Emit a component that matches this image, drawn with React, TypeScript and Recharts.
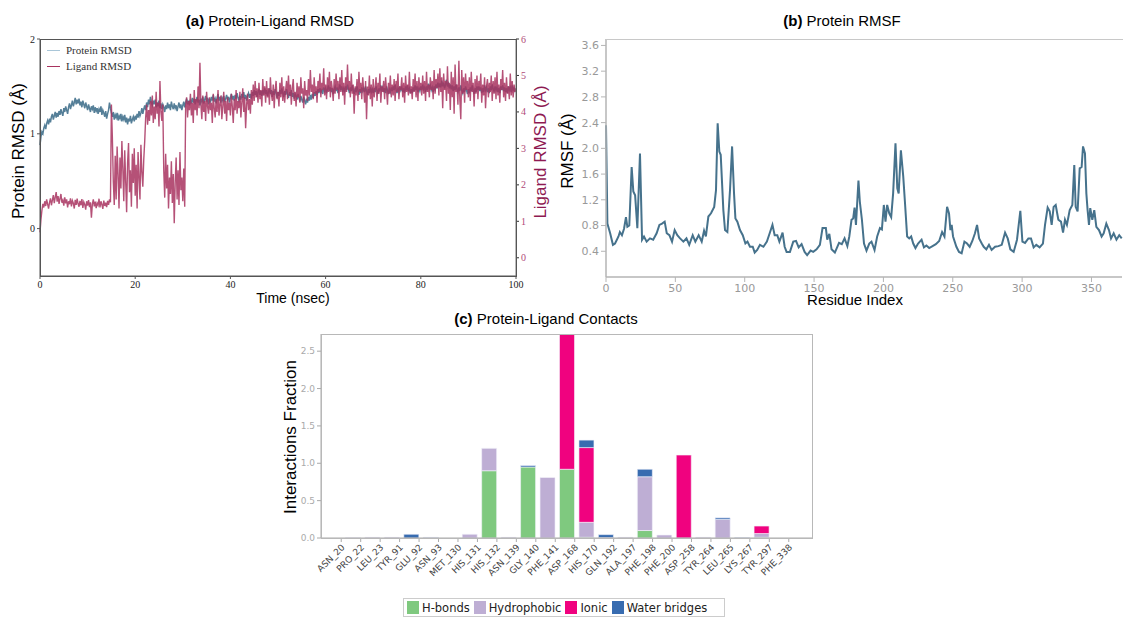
import React from "react";
import { LineChart, Line, BarChart, Bar, XAxis, YAxis } from "recharts";

// (a) RMSD time series, sampled every STEP ns
const STEP = 0.2;
const proteinRmsd = [
  0.88, 0.97, 1.02, 1.00, 1.06, 1.09, 1.05, 1.11, 1.14, 1.10,
  1.16, 1.12, 1.18, 1.21, 1.15, 1.19, 1.23, 1.17, 1.22, 1.18,
  1.24, 1.20, 1.26, 1.22, 1.19, 1.27, 1.23, 1.29, 1.25, 1.21,
  1.28, 1.32, 1.26, 1.30, 1.35, 1.29, 1.33, 1.38, 1.31, 1.36,
  1.32, 1.37, 1.30, 1.34, 1.28, 1.35, 1.31, 1.27, 1.33, 1.29,
  1.25, 1.31, 1.27, 1.23, 1.29, 1.26, 1.30, 1.22, 1.28, 1.24,
  1.27, 1.21, 1.26, 1.23, 1.29, 1.20, 1.25, 1.22, 1.18, 1.24,
  1.16, 1.21, 1.25, 1.33, 1.27, 1.22, 1.18, 1.23, 1.15, 1.20,
  1.17, 1.22, 1.14, 1.19, 1.16, 1.21, 1.13, 1.18, 1.15, 1.20,
  1.12, 1.17, 1.10, 1.16, 1.13, 1.19, 1.11, 1.15, 1.18, 1.13,
  1.19, 1.15, 1.21, 1.17, 1.24, 1.19, 1.22, 1.27, 1.21, 1.26,
  1.30, 1.25, 1.33, 1.28, 1.36, 1.31, 1.39, 1.33, 1.30, 1.35,
  1.31, 1.36, 1.28, 1.33, 1.29, 1.35, 1.27, 1.32, 1.26, 1.31,
  1.28, 1.23, 1.30, 1.26, 1.33, 1.27, 1.31, 1.25, 1.34, 1.29,
  1.26, 1.32, 1.27, 1.30, 1.24, 1.29, 1.33, 1.27, 1.31, 1.25,
  1.30, 1.34, 1.28, 1.33, 1.37, 1.31, 1.35, 1.30, 1.36, 1.32,
  1.38, 1.33, 1.37, 1.31, 1.35, 1.39, 1.33, 1.36, 1.30, 1.37,
  1.34, 1.39, 1.32, 1.36, 1.40, 1.34, 1.38, 1.31, 1.37, 1.33,
  1.39, 1.35, 1.41, 1.34, 1.37, 1.32, 1.38, 1.42, 1.35, 1.39,
  1.33, 1.38, 1.35, 1.40, 1.34, 1.37, 1.41, 1.36, 1.39, 1.33,
  1.38, 1.42, 1.36, 1.40, 1.35, 1.41, 1.37, 1.43, 1.38, 1.35,
  1.40, 1.36, 1.42, 1.38, 1.44, 1.37, 1.41, 1.35, 1.40, 1.43,
  1.38, 1.42, 1.37, 1.44, 1.40, 1.46, 1.41, 1.45, 1.39, 1.44,
  1.47, 1.41, 1.45, 1.40, 1.46, 1.43, 1.48, 1.42, 1.46, 1.40,
  1.44, 1.48, 1.42, 1.46, 1.39, 1.45, 1.41, 1.47, 1.43, 1.38,
  1.44, 1.40, 1.46, 1.42, 1.48, 1.43, 1.39, 1.45, 1.41, 1.47,
  1.42, 1.38, 1.44, 1.40, 1.46, 1.39, 1.43, 1.37, 1.42, 1.40,
  1.36, 1.42, 1.38, 1.34, 1.40, 1.36, 1.33, 1.39, 1.35, 1.31,
  1.37, 1.33, 1.39, 1.35, 1.41, 1.36, 1.42, 1.38, 1.44, 1.40,
  1.45, 1.41, 1.47, 1.43, 1.48, 1.44, 1.46, 1.42, 1.49, 1.45,
  1.48, 1.43, 1.47, 1.51, 1.45, 1.49, 1.44, 1.48, 1.42, 1.47,
  1.50, 1.45, 1.49, 1.43, 1.48, 1.52, 1.46, 1.50, 1.44, 1.48,
  1.45, 1.50, 1.46, 1.52, 1.47, 1.43, 1.49, 1.45, 1.51, 1.46,
  1.42, 1.48, 1.44, 1.50, 1.46, 1.41, 1.47, 1.43, 1.49, 1.45,
  1.48, 1.44, 1.50, 1.45, 1.41, 1.47, 1.43, 1.49, 1.44, 1.47,
  1.43, 1.48, 1.44, 1.50, 1.46, 1.42, 1.48, 1.45, 1.51, 1.46,
  1.49, 1.44, 1.48, 1.43, 1.50, 1.46, 1.42, 1.47, 1.44, 1.49,
  1.45, 1.50, 1.46, 1.52, 1.47, 1.43, 1.48, 1.45, 1.50, 1.46,
  1.49, 1.44, 1.48, 1.43, 1.50, 1.46, 1.51, 1.45, 1.48, 1.43,
  1.47, 1.43, 1.49, 1.45, 1.51, 1.46, 1.50, 1.44, 1.48, 1.45,
  1.50, 1.46, 1.52, 1.47, 1.49, 1.44, 1.50, 1.46, 1.53, 1.48,
  1.51, 1.46, 1.49, 1.44, 1.50, 1.47, 1.52, 1.48, 1.54, 1.49,
  1.53, 1.49, 1.56, 1.50, 1.54, 1.48, 1.52, 1.57, 1.50, 1.53,
  1.48, 1.52, 1.47, 1.51, 1.45, 1.50, 1.46, 1.52, 1.47, 1.44,
  1.49, 1.45, 1.51, 1.46, 1.43, 1.48, 1.44, 1.50, 1.46, 1.42,
  1.47, 1.43, 1.49, 1.45, 1.51, 1.46, 1.42, 1.48, 1.44, 1.50,
  1.46, 1.50, 1.45, 1.49, 1.43, 1.48, 1.44, 1.51, 1.46, 1.49,
  1.44, 1.48, 1.43, 1.50, 1.46, 1.52, 1.47, 1.45, 1.50, 1.46,
  1.49, 1.44, 1.48, 1.43, 1.50, 1.46, 1.51, 1.45, 1.49, 1.44,
  1.48, 1.43, 1.50, 1.46, 1.49, 1.44, 1.51, 1.46, 1.48, 1.45,
  1.47,
];
const ligandRmsd = [
  0.70, 1.05, 1.30, 1.48, 1.38, 1.55, 1.42, 1.60, 1.47, 1.35,
  1.52, 1.63, 1.44, 1.58, 1.72, 1.50, 1.66, 1.80, 1.54, 1.69,
  1.48, 1.62, 1.75, 1.51, 1.58, 1.43, 1.66, 1.49, 1.60, 1.38,
  1.55, 1.47, 1.63, 1.41, 1.57, 1.50, 1.35, 1.59, 1.45, 1.62,
  1.48, 1.40, 1.56, 1.44, 1.61, 1.37, 1.53, 1.46, 1.32, 1.55,
  1.43, 1.58, 1.39, 1.52, 1.10, 1.47, 1.60, 1.41, 1.54, 1.36,
  1.50, 1.44, 1.62, 1.38, 1.55, 1.46, 1.34, 1.57, 1.42, 1.51,
  1.39, 1.56, 1.45, 1.60, 1.52, 4.20, 3.30, 2.10, 1.45, 2.80,
  1.60, 3.05, 2.30, 1.35, 2.75, 1.90, 3.20, 2.45, 1.55, 2.95,
  2.10, 1.25, 2.60, 3.15, 1.80, 2.40, 1.40, 2.85, 2.05, 3.00,
  1.70, 2.55, 1.35, 2.90, 2.20, 1.60, 3.10, 2.35, 1.95, 2.70,
  3.20, 3.85, 4.20, 3.65, 4.05, 3.75, 4.30, 3.90, 4.45, 3.70,
  4.15, 3.80, 4.55, 3.95, 4.25, 3.60, 4.85, 4.00, 3.75, 4.20,
  2.40, 1.65, 2.85, 1.90, 2.55, 1.35, 2.20, 1.75, 2.65, 1.50,
  2.30, 0.95, 2.05, 2.75, 1.60, 2.40, 1.45, 2.90, 1.85, 2.20,
  1.55, 2.45, 1.40, 4.15, 4.40, 3.85, 4.30, 4.05, 4.50, 3.90,
  4.25, 3.70, 4.60, 4.05, 4.35, 3.90, 4.70, 4.10, 5.35, 4.20,
  3.80, 4.45, 4.00, 4.30, 3.75, 4.55, 4.15, 3.95, 4.40, 4.05,
  4.25, 3.70, 4.50, 4.10, 3.85, 4.35, 4.00, 4.60, 3.90, 4.20,
  4.45, 3.80, 4.15, 4.55, 3.95, 4.30, 3.75, 4.40, 4.05, 4.25,
  3.90, 4.50, 4.15, 3.70, 4.35, 4.05, 4.60, 3.95, 4.30, 4.10,
  4.55, 3.85, 4.25, 4.65, 4.00, 4.40, 3.55, 4.20, 4.50, 4.05,
  4.35, 3.95, 4.60, 4.20, 4.75, 4.30, 4.85, 4.40, 4.65, 4.25,
  4.80, 4.35, 4.60, 4.15, 4.90, 4.45, 4.70, 4.25, 4.85, 4.40,
  4.65, 4.20, 4.95, 4.50, 4.30, 4.75, 4.10, 4.60, 4.85, 4.35,
  4.55, 4.15, 4.80, 4.40, 4.95, 4.30, 4.70, 4.25, 4.60, 4.85,
  4.35, 5.00, 4.45, 4.75, 4.20, 4.65, 4.90, 4.30, 4.55, 4.15,
  4.80, 4.40, 4.70, 4.25, 4.95, 4.50, 4.65, 4.10, 4.85, 4.45,
  4.60, 4.30, 4.90, 4.45, 5.15, 4.55, 4.75, 4.35, 4.95, 4.50,
  4.70, 4.25, 4.85, 4.55, 5.05, 4.40, 4.80, 4.60, 5.20, 4.45,
  4.75, 4.35, 4.95, 4.55, 5.10, 4.40, 4.85, 4.65, 4.30, 4.90,
  4.50, 5.05, 4.60, 4.85, 4.35, 4.95, 4.55, 5.15, 4.45, 4.80,
  4.20, 4.95, 4.55, 5.30, 4.60, 4.85, 4.40, 5.05, 4.50, 4.75,
  3.95, 4.70, 4.45, 4.90, 4.30, 5.10, 4.55, 4.80, 4.35, 4.95,
  4.60, 4.25, 4.85, 3.80, 4.70, 4.45, 5.00, 4.35, 4.75, 4.15,
  4.90, 4.40, 4.65, 4.95, 4.30, 4.80, 4.50, 5.05, 4.25, 4.70,
  4.55, 4.85, 4.35, 4.95, 4.60, 4.20, 4.80, 4.50, 5.00, 4.40,
  4.75, 4.45, 4.90, 4.30, 4.85, 4.55, 5.05, 4.35, 4.70, 4.60,
  4.95, 4.40, 4.80, 4.25, 5.00, 4.55, 4.75, 4.45, 5.10, 4.50,
  4.70, 4.35, 4.90, 4.55, 5.05, 4.40, 4.85, 4.30, 4.95, 4.60,
  4.80, 4.45, 5.00, 4.50, 4.85, 4.30, 5.10, 4.55, 4.75, 4.40,
  4.95, 4.60, 4.85, 4.35, 5.15, 4.50, 4.90, 4.65, 5.05, 4.45,
  5.20, 4.55, 4.95, 4.10, 5.05, 4.60, 4.85, 4.30, 5.25, 4.50,
  4.80, 4.05, 5.10, 4.40, 4.95, 3.95, 5.30, 4.55, 4.75, 4.20,
  5.40, 4.35, 3.80, 5.15, 4.50, 4.95, 4.25, 5.05, 4.60, 4.85,
  4.40, 4.95, 4.30, 5.10, 4.55, 4.80, 4.15, 4.90, 4.50, 5.00,
  4.35, 4.85, 4.60, 5.05, 4.25, 4.75, 4.45, 4.95, 4.10, 4.70,
  4.90, 4.40, 4.80, 4.55, 5.00, 4.30, 4.85, 4.50, 4.95, 4.35,
  5.10, 4.45, 4.75, 4.25, 4.90, 4.60, 5.15, 4.40, 4.80, 4.30,
  4.95, 4.50, 4.70, 4.35, 5.05, 4.45, 4.85, 4.40, 4.75, 4.55,
  4.65,
];

// (b) RMSF per residue
const rmsfResidue = [
  0, 1, 3, 5, 6.5, 9, 10, 11.5, 13, 14.4, 15.4, 16.8, 18.5, 19.7, 21, 22.6, 24.5, 26, 27.4, 29.3,
  31.7, 34, 36.5, 38.5, 40.4, 42.3, 43.8, 45.7, 47.6, 49.5, 51.4, 53.4, 55.8, 58, 60, 62.5, 64.4, 66.8, 69, 70.7,
  72, 73.8, 75.7, 78, 79.3, 80.5, 81.7, 82.7, 84.6, 85.8, 87.5, 89.4, 90.9, 92.3, 93.3, 94.7, 96.6, 98.6, 100.5, 102,
  103.8, 105.8, 107.2, 109, 111, 113.5, 116, 118, 120, 121.6, 123.5, 125, 127.3, 128.8, 130.2, 132.6, 135, 137, 138.9, 141,
  143.2, 145, 147.5, 149.4, 151.8, 154.2, 156.1, 158.5, 159.5, 161, 162.6, 165, 168, 170, 172, 174, 175.4, 177, 178.2, 179.2,
  180.2, 182, 183, 184.5, 186, 187.8, 189.8, 191.4, 193.6, 195.5, 197.5, 198.9, 200.3, 201.5, 202.7, 204.2, 205.6, 207, 208.7, 210,
  211, 212.6, 214.3, 215.5, 217.1, 218.6, 220, 221.5, 223.1, 225, 227.5, 229.2, 231, 233, 235.4, 237.8, 240.2, 242.3, 244, 245.9,
  247.3, 248.3, 249.2, 250.2, 252.6, 254.5, 256.4, 258.4, 260.3, 262.2, 264.1, 266, 267.5, 269, 270.9, 272.3, 274.2, 276.1, 278, 280.5,
  282.9, 285.3, 287.7, 289.6, 291.5, 293.9, 296.3, 298.7, 300.2, 302.1, 304.5, 306.4, 308.3, 310.2, 312.6, 315, 316.5, 318.4, 319.9, 321.3,
  322.7, 324.2, 326.1, 328, 329.5, 330.9, 332.3, 334.3, 336.2, 337.6, 338.6, 340, 341.5, 342.9, 343.9, 345.3, 346.3, 347.2, 348.2, 349.1,
  350.6, 352, 353.5, 355.4, 357.3, 358.8, 360.7, 362.6, 364.1, 366, 368, 370, 371.8,
];
const rmsfValue = [
  2.36, 0.83, 0.68, 0.50, 0.52, 0.63, 0.70, 0.65, 0.75, 0.93, 0.78, 0.80, 1.71, 1.33, 1.27, 0.76, 1.92, 0.58, 0.63, 0.55,
  0.60, 0.58, 0.68, 0.81, 0.83, 0.86, 0.68, 0.65, 0.55, 0.73, 0.65, 0.60, 0.55, 0.60, 0.50, 0.65, 0.55, 0.65, 0.55, 0.72,
  0.63, 0.94, 0.99, 1.09, 1.35, 2.39, 1.95, 1.90, 1.04, 0.73, 0.70, 1.35, 2.03, 1.30, 0.91, 0.86, 0.73, 0.65, 0.52, 0.55,
  0.47, 0.47, 0.38, 0.42, 0.50, 0.47, 0.55, 0.68, 0.81, 0.65, 0.65, 0.55, 0.69, 0.47, 0.39, 0.39, 0.55, 0.56, 0.46, 0.51,
  0.39, 0.34, 0.41, 0.39, 0.43, 0.50, 0.76, 0.76, 0.58, 0.67, 0.43, 0.38, 0.53, 0.51, 0.60, 0.48, 0.63, 0.89, 0.91, 1.08,
  0.81, 1.50, 1.17, 0.89, 0.52, 0.41, 0.52, 0.55, 0.42, 0.63, 0.76, 0.74, 1.12, 0.86, 1.12, 0.99, 0.93, 1.30, 2.08, 1.38,
  1.30, 1.97, 1.56, 1.17, 0.63, 0.60, 0.63, 0.52, 0.45, 0.52, 0.58, 0.46, 0.49, 0.45, 0.48, 0.51, 0.56, 0.70, 0.63, 1.09,
  0.99, 0.73, 0.81, 0.63, 0.47, 0.39, 0.37, 0.55, 0.52, 0.47, 0.56, 0.68, 0.81, 0.60, 0.52, 0.47, 0.43, 0.50, 0.42, 0.47,
  0.48, 0.50, 0.69, 0.60, 0.43, 0.39, 0.58, 1.03, 0.55, 0.53, 0.60, 0.60, 0.46, 0.50, 0.46, 0.52, 0.81, 1.08, 1.02, 0.81,
  1.09, 1.12, 0.89, 0.86, 0.69, 0.89, 0.81, 1.04, 1.12, 1.74, 1.09, 1.02, 1.69, 1.71, 2.03, 1.92, 1.30, 1.04, 0.81, 1.07,
  0.89, 1.04, 0.78, 0.73, 0.63, 0.68, 0.83, 0.73, 0.60, 0.68, 0.58, 0.65, 0.60,
];

// (c) protein-ligand contacts
const residues = [
  "ASN_20", "PRO_22", "LEU_23", "TYR_91", "GLU_92", "ASN_93", "MET_130", "HIS_131",
  "HIS_132", "ASN_139", "GLY_140", "PHE_141", "ASP_168", "HIS_170", "GLN_192", "ALA_197",
  "PHE_198", "PHE_200", "ASP_258", "TYR_264", "LEU_265", "LYS_267", "TYR_297", "PHE_338",
];
const hBonds =       [0, 0, 0, 0, 0, 0, 0, 0, 0.90, 0, 0.95, 0, 0.92, 0.01, 0, 0, 0.10, 0, 0, 0, 0, 0, 0.01, 0];
const hydrophobic =  [0, 0.005, 0.01, 0.01, 0, 0.005, 0, 0.05, 0.30, 0.01, 0, 0.81, 0, 0.20, 0.005, 0.01, 0.72, 0.04, 0, 0.01, 0.25, 0, 0.05, 0];
const ionic =        [0, 0, 0, 0, 0, 0, 0, 0, 0, 0, 0, 0, 1.85, 1.00, 0, 0, 0, 0, 1.11, 0, 0, 0, 0.10, 0];
const waterBridges = [0, 0, 0, 0, 0.05, 0.005, 0, 0, 0, 0, 0.02, 0, 0, 0.10, 0.04, 0, 0.10, 0, 0, 0, 0.02, 0.005, 0, 0];

const rmsdData = proteinRmsd.map((p, i) => ({ t: i * STEP, protein: p, ligand: ligandRmsd[i] }));
const rmsfData = rmsfResidue.map((r, i) => ({ res: r, rmsf: rmsfValue[i] }));
const contactData = residues.map((r, i) => ({
  res: r, hb: hBonds[i], hp: hydrophobic[i], ion: ionic[i], wb: waterBridges[i],
}));

const SANS = "Arial, 'Liberation Sans', sans-serif";
const SERIF = "'Liberation Serif', 'Times New Roman', serif";
const DV = "'DejaVu Sans', sans-serif";
const CRIMSON = "#8e1a52";

function VLabel({ x, y, text, size = 17, color = "#000" }: any) {
  return (
    <div style={{
      position: "absolute", left: x, top: y, transform: "translate(-50%, -50%) rotate(-90deg)",
      whiteSpace: "nowrap", fontFamily: SANS, fontSize: size, color, lineHeight: 1,
    }}>{text}</div>
  );
}

function HLabel({ x, y, size = 15, children }: any) {
  return (
    <div style={{
      position: "absolute", left: x, top: y, transform: "translate(-50%, -50%)",
      whiteSpace: "nowrap", fontFamily: SANS, fontSize: size, color: "#000", lineHeight: 1,
    }}>{children}</div>
  );
}

function ResTick({ x, y, payload }: any) {
  const tx = x + 7.5;
  return (
    <g transform={`translate(${tx},${y})`}>
      <line x1={0} y1={0} x2={0} y2={4} stroke="#aaa" />
      <text transform="translate(4,10) rotate(-45)" textAnchor="end" fontSize={9} fill="#444" fontFamily={DV}>
        {payload.value}
      </text>
    </g>
  );
}

const legendItems = [
  { label: "H-bonds", color: "#7fc97f" },
  { label: "Hydrophobic", color: "#beaed4" },
  { label: "Ionic", color: "#f0027f" },
  { label: "Water bridges", color: "#386cb0" },
];

export default function App() {
  return (
    <div style={{ position: "absolute", left: 0, top: 0, width: 1123, height: 617, overflow: "hidden", background: "#fff" }}>
      {/* (a) */}
      <div style={{ position: "absolute", left: 0, top: 0 }}>
        <LineChart width={560} height={310} data={rmsdData} margin={{ top: 39, right: 0, bottom: 0, left: 0 }}>
          <XAxis dataKey="t" type="number" domain={[0, 100]} ticks={[0, 20, 40, 60, 80, 100]} height={34}
            tick={{ fontFamily: SERIF, fontSize: 10, fill: "#222" }} tickSize={3}
            axisLine={{ stroke: "#555" }} tickLine={{ stroke: "#555" }} />
          <YAxis yAxisId="left" domain={[-0.5, 2]} ticks={[0, 1, 2]} width={40}
            tick={{ fontFamily: SERIF, fontSize: 10, fill: "#222" }} tickSize={3}
            axisLine={{ stroke: "#555" }} tickLine={{ stroke: "#555" }} />
          <YAxis yAxisId="right" orientation="right" domain={[-0.5, 6]} ticks={[0, 1, 2, 3, 4, 5, 6]} width={44}
            tick={{ fontFamily: SERIF, fontSize: 10, fill: "#b04a78" }} tickSize={3}
            axisLine={{ stroke: "#777" }} tickLine={{ stroke: "#333" }} />
          <Line yAxisId="left" dataKey="protein" stroke="#557f98" strokeWidth={1.5} dot={false} isAnimationActive={false} />
          <Line yAxisId="right" dataKey="ligand" stroke="#a8335f" strokeWidth={1.4} strokeOpacity={0.85} dot={false} isAnimationActive={false} />
        </LineChart>
      </div>
      <div style={{ position: "absolute", left: 40, top: 39, width: 477, height: 238, boxSizing: "border-box", border: "1px solid #555" }} />
      <div style={{ position: "absolute", left: 47, top: 42, fontFamily: SERIF, fontSize: 11, color: "#333", lineHeight: "16px" }}>
        <div style={{ display: "flex", alignItems: "center" }}>
          <span style={{ display: "inline-block", width: 13, borderTop: "1px solid #a9c6d8", marginRight: 6 }} />Protein RMSD
        </div>
        <div style={{ display: "flex", alignItems: "center" }}>
          <span style={{ display: "inline-block", width: 13, borderTop: "1px solid #a8335f", marginRight: 6 }} />Ligand RMSD
        </div>
      </div>
      <HLabel x={270} y={20}><b>(a)</b> Protein-Ligand RMSD</HLabel>
      <VLabel x={18} y={151} text="Protein RMSD (Å)" />
      <VLabel x={540} y={152} text="Ligand RMSD (Å)" color={CRIMSON} />
      <HLabel x={293} y={298} size={14}>Time (nsec)</HLabel>

      {/* (b) */}
      <div style={{ position: "absolute", left: 560, top: 0 }}>
        <LineChart width={563} height={310} data={rmsfData} margin={{ top: 39, right: 1, bottom: 0, left: 0 }}>
          <XAxis dataKey="res" type="number" domain={[0, 372]} ticks={[0, 50, 100, 150, 200, 250, 300, 350]} height={33}
            tick={{ fontFamily: DV, fontSize: 11, fill: "#999" }} tickSize={5}
            axisLine={{ stroke: "#b5b5b5", strokeWidth: 1.5 }} tickLine={{ stroke: "#b5b5b5" }} />
          <YAxis domain={[0, 3.7]} ticks={[0.4, 0.8, 1.2, 1.6, 2.0, 2.4, 2.8, 3.2, 3.6]} width={46}
            tickFormatter={(v: number) => v.toFixed(1)}
            tick={{ fontFamily: DV, fontSize: 11, fill: "#999" }} tickSize={5}
            axisLine={{ stroke: "#b5b5b5", strokeWidth: 1.5 }} tickLine={{ stroke: "#b5b5b5" }} />
          <Line dataKey="rmsf" stroke="#46728c" strokeWidth={2} dot={false} isAnimationActive={false} />
        </LineChart>
      </div>
      <div style={{ position: "absolute", left: 606, top: 39, width: 517, height: 0, borderTop: "1px solid #c8c8c8" }} />
      <HLabel x={842} y={20}><b>(b)</b> Protein RMSF</HLabel>
      <VLabel x={567} y={151} text="RMSF (Å)" />
      <HLabel x={855} y={299}>Residue Index</HLabel>

      {/* (c) */}
      <div style={{ position: "absolute", left: 260, top: 300 }}>
        <BarChart width={570} height={290} data={contactData} barSize={15}
          margin={{ top: 34, right: 18, bottom: 0, left: 1 }}>
          <XAxis dataKey="res" type="category" interval={0} height={52} padding={{ left: 3, right: 21 }}
            tickSize={0} tickMargin={0} tickLine={false} axisLine={{ stroke: "#aaa" }} tick={<ResTick />} />
          <YAxis domain={[0, 2.73]} allowDataOverflow ticks={[0, 0.5, 1, 1.5, 2, 2.5]} width={60}
            tickFormatter={(v: number) => v.toFixed(1)}
            tick={{ fontFamily: DV, fontSize: 9, fill: "#aaa" }} tickSize={4}
            axisLine={{ stroke: "#aaa" }} tickLine={{ stroke: "#aaa" }} />
          <Bar dataKey="hb" stackId="s" fill="#7fc97f" stroke="#f4f4fb" strokeWidth={0.6} isAnimationActive={false} />
          <Bar dataKey="hp" stackId="s" fill="#beaed4" stroke="#f4f4fb" strokeWidth={0.6} isAnimationActive={false} />
          <Bar dataKey="ion" stackId="s" fill="#f0027f" stroke="#f4f4fb" strokeWidth={0.6} isAnimationActive={false} />
          <Bar dataKey="wb" stackId="s" fill="#386cb0" stroke="#f4f4fb" strokeWidth={0.6} isAnimationActive={false} />
        </BarChart>
      </div>
      <div style={{ position: "absolute", left: 321, top: 334, width: 492, height: 205, boxSizing: "border-box", border: "1.5px solid #b8b8b8" }} />
      <HLabel x={546} y={318}><b>(c)</b> Protein-Ligand Contacts</HLabel>
      <VLabel x={290} y={437} text="Interactions Fraction" />
      <div style={{
        position: "absolute", left: 403, top: 598, width: 322, height: 19, boxSizing: "border-box",
        border: "1px solid #ccc", display: "flex", alignItems: "center", paddingLeft: 3,
        fontFamily: DV, fontSize: 11.5, color: "#222", whiteSpace: "nowrap", overflow: "hidden",
      }}>
        {legendItems.map((it) => (
          <span key={it.label} style={{ display: "flex", alignItems: "center", marginRight: 4, whiteSpace: "nowrap" }}>
            <span style={{ display: "inline-block", width: 12, height: 13, background: it.color, marginRight: 3 }} />
            {it.label}
          </span>
        ))}
      </div>
    </div>
  );
}
